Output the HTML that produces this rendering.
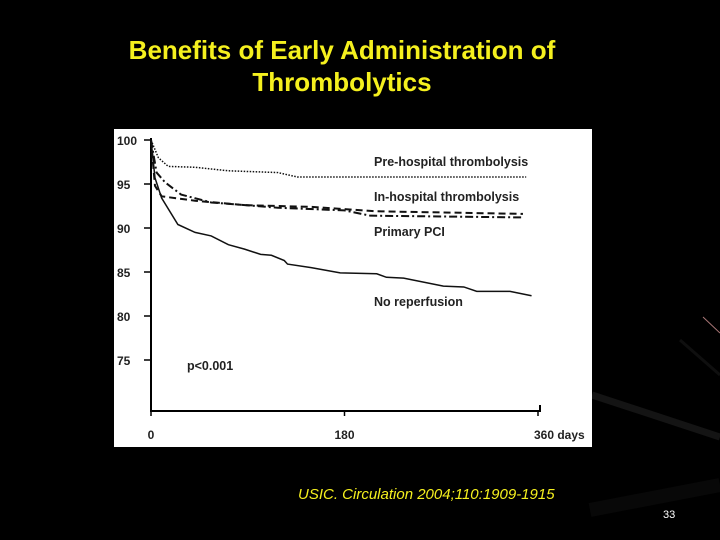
<!DOCTYPE html>
<html><head><meta charset="utf-8"><style>
html,body{margin:0;padding:0;background:#000;}
#root{position:relative;width:720px;height:540px;overflow:hidden;background:#000;font-family:"Liberation Sans",sans-serif;}
.title{position:absolute;left:40px;width:604px;top:34px;text-align:center;color:#f5f01e;font-weight:bold;font-size:26px;line-height:32px;}
.cite{position:absolute;left:298px;top:486px;color:#f5f01e;font-style:italic;font-size:15px;}
.pn{position:absolute;left:663px;top:509px;color:#fff;font-size:11px;}
</style></head><body>
<div id="root">
<svg width="720" height="540" style="position:absolute;left:0;top:0">
<line x1="592" y1="395" x2="720" y2="437" stroke="#141414" stroke-width="7"/>
<line x1="680" y1="340" x2="720" y2="375" stroke="#0f0f0f" stroke-width="3"/>
<line x1="703" y1="317" x2="720" y2="333" stroke="#a77" stroke-width="1"/>
<line x1="590" y1="510" x2="720" y2="485" stroke="#080808" stroke-width="14"/>
</svg>
<div class="title">Benefits of Early Administration of<br>Thrombolytics</div>
<svg id="chart" width="720" height="540" style="position:absolute;left:0;top:0">
<rect x="114" y="129" width="478" height="318" fill="#fff"/>
</svg>
<div class="cite">USIC. Circulation 2004;110:1909-1915</div>
<div class="pn">33</div>
</div>
<script>
const yTicks=[100,95,90,85,80,75];
const xTicks=[0,180,360];
const xTickLabels=["0","180","360 days"];
const noRepDays=[0,3.7,9.9,25,41,56,72,87,102,112,124,127,149,176,210,219,235,272,291,303,334,354];
const noRepVals=[100,95.7,93.4,90.4,89.5,89.1,88.1,87.6,87,86.9,86.3,85.9,85.5,84.9,84.8,84.4,84.3,83.4,83.3,82.8,82.8,82.3];
const preDays=[0,6.8,16,41,72,118,136,349];
const preVals=[100,98,97.0,96.9,96.5,96.3,95.8,95.8];
const inDays=[0,5.2,13,28,56,118,180,204,346];
const inVals=[100,96.3,95.2,93.8,92.9,92.3,92.0,91.4,91.2];
const pciDays=[0,3.7,9.9,41,87,149,210,346];
const pciVals=[100,94.8,93.6,93.1,92.6,92.4,91.9,91.6];
const NS="http://www.w3.org/2000/svg";
const svg=document.getElementById('chart');
const X=d=>151+d*(538-151)/360;
const Y=v=>140+(100-v)*(360-140)/25;
function el(t,a){const e=document.createElementNS(NS,t);for(const k in a)e.setAttribute(k,a[k]);svg.appendChild(e);return e;}
const ax=el('path',{d:`M151 138 V411 H540 V405`,stroke:'#000','stroke-width':2,fill:'none'});


yTicks.forEach(v=>{
 const t=el('line',{x1:144,x2:151,y1:Y(v),y2:Y(v),stroke:'#000','stroke-width':1.5});
 
 
 const l=el('text',{x:117,y:Y(v)+5,'font-size':12,'font-weight':'bold',fill:'#222','font-family':'Liberation Sans,sans-serif'});
 l.textContent=v;
 
 
});
xTicks.forEach((d,i)=>{
 const t=el('line',{x1:X(d),x2:X(d),y1:411,y2:416,stroke:'#000','stroke-width':1.5});
 
 
 const l=el('text',{x:X(d)+(i==2?-4:0),y:439,'font-size':12,'font-weight':'bold',fill:'#222','text-anchor':i==2?'start':'middle','font-family':'Liberation Sans,sans-serif'});
 l.textContent=xTickLabels[i];
 
 
});
function series(days,vals,dash,w,name){
 const p=el('polyline',{points:days.map((d,i)=>X(d)+','+Y(vals[i])).join(' '),fill:'none',stroke:'#111','stroke-width':w,'stroke-dasharray':dash});
 
 
}
series(noRepDays,noRepVals,'none',1.5,'no-reperfusion-line');
series(preDays,preVals,'1.5 1.5',1.5,'pre-hospital-line');
series(inDays,inVals,'8 3 2 3',2,'in-hospital-line');
series(pciDays,pciVals,'7 4',2,'primary-pci-line');
const labels=[["Pre-hospital thrombolysis",166,'pre-hospital-label'],["In-hospital thrombolysis",201,'in-hospital-label'],["Primary PCI",236,'primary-pci-label'],["No reperfusion",306,'no-reperfusion-label'],["p<0.001",370,'p-value-label']];
labels.forEach(([t,y,n])=>{
 const l=el('text',{x:n=='p-value-label'?187:374,y:y,'font-size':12.5,'font-weight':'bold',fill:'#222','font-family':'Liberation Sans,sans-serif'});
 l.textContent=t;
 
 
});
</script>
</body></html>
